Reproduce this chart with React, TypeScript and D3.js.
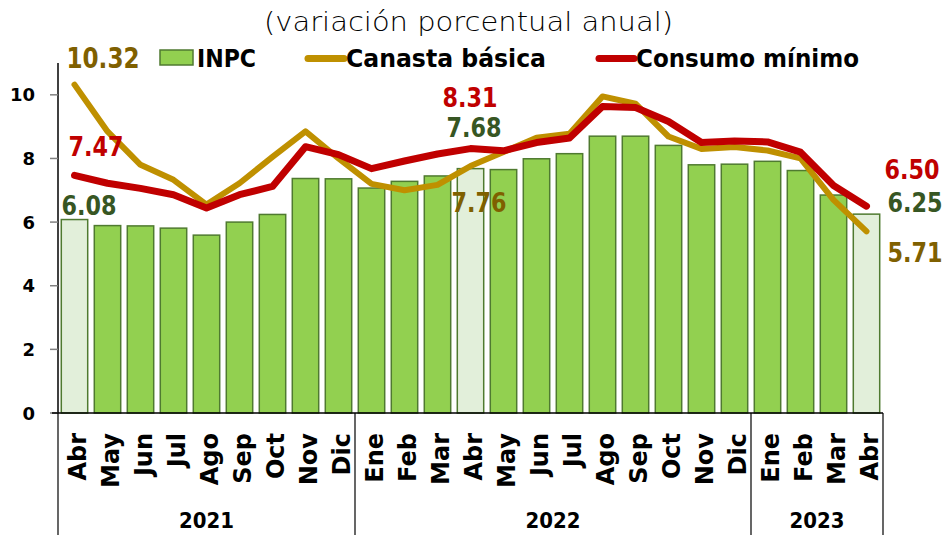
import React from "react";
import * as d3 from "d3";

const months = ["Abr","May","Jun","Jul","Ago","Sep","Oct","Nov","Dic","Ene","Feb","Mar","Abr","May","Jun","Jul","Ago","Sep","Oct","Nov","Dic","Ene","Feb","Mar","Abr"];
const years = [
  { label: "2021", start: 0, end: 9 },
  { label: "2022", start: 9, end: 21 },
  { label: "2023", start: 21, end: 25 },
];
const inpc = [6.08,5.89,5.88,5.81,5.59,6.00,6.24,7.37,7.36,7.07,7.28,7.45,7.68,7.65,7.99,8.15,8.70,8.70,8.41,7.80,7.82,7.91,7.62,6.85,6.25];
const canasta = [10.32,8.85,7.80,7.33,6.55,7.22,8.05,8.85,8.00,7.20,7.00,7.17,7.76,8.20,8.65,8.78,9.95,9.72,8.69,8.30,8.36,8.25,8.00,6.70,5.71];
const consumo = [7.47,7.22,7.06,6.86,6.44,6.86,7.12,8.37,8.12,7.68,7.92,8.14,8.31,8.24,8.50,8.64,9.63,9.60,9.16,8.50,8.55,8.52,8.20,7.15,6.50];
const highlighted = [0, 12, 24];
const yTicks = [0, 2, 4, 6, 8, 10];

const W = 948, H = 535;
const GREEN = "#92D050", GREEN_LIGHT = "#E2EFDA", BAR_STROKE = "#4F7A30";
const GOLD = "#BF9000", RED = "#C00000";
const GOLD_TXT = "#7F6000", GREEN_TXT = "#375623";

export default function App() {
  const x = d3.scaleBand<number>().domain(d3.range(months.length)).range([58, 883]).paddingInner(0.2).paddingOuter(0.1);
  const y = d3.scaleLinear().domain([0, 11]).range([413, 63]);
  const step = x.step();
  const cx = (i: number) => (x(i) as number) + x.bandwidth() / 2;
  const boundary = (i: number) => (i >= months.length ? 883 : (x(i) as number) - step * 0.1);

  const line = d3.line<number>().x((_, i) => cx(i)).y((d) => y(d));

  const numFont = "'DejaVu Sans Condensed', 'DejaVu Sans', sans-serif";
  const lbl = (text: string, xx: number, yy: number, color: string) => (
    <text x={xx} y={yy} fill={color} fontFamily={numFont} fontWeight="bold" fontSize={27} textLength={55} lengthAdjust="spacingAndGlyphs">{text}</text>
  );

  return (
    <div style={{ position: "fixed", left: 0, top: 0 }}>
      <svg width={W} height={H} style={{ display: "block", background: "#fff" }}>
        {/* title */}
        <text x={264} y={31} fill="#000" fontFamily="'DejaVu Sans', sans-serif" fontWeight={200} fontSize={26} textLength={409} lengthAdjust="spacingAndGlyphs">(variación porcentual anual)</text>

        {/* legend */}
        <rect x={160} y={50} width={33} height={15} fill={GREEN} stroke={BAR_STROKE} strokeWidth={1.5} />
        <text x={197} y={67} fontFamily={numFont} fontWeight="bold" fontSize={24} textLength={59} lengthAdjust="spacingAndGlyphs">INPC</text>
        <line x1={308} x2={344} y1={58.5} y2={58.5} stroke={GOLD} strokeWidth={7} strokeLinecap="round" />
        <text x={346} y={67} fontFamily={numFont} fontWeight="bold" fontSize={24} textLength={200} lengthAdjust="spacingAndGlyphs">Canasta básica</text>
        <line x1={599} x2={634} y1={58.5} y2={58.5} stroke={RED} strokeWidth={7} strokeLinecap="round" />
        <text x={636} y={67} fontFamily={numFont} fontWeight="bold" fontSize={24} textLength={223} lengthAdjust="spacingAndGlyphs">Consumo mínimo</text>

        {/* y axis */}
        <line x1={58} x2={58} y1={63} y2={413} stroke="#000" strokeWidth={1.5} />
        {yTicks.map((t) => (
          <g key={t}>
            <line x1={50} x2={58} y1={y(t)} y2={y(t)} stroke="#808080" strokeWidth={1.5} />
            <text x={35} y={y(t) + 6.5} textAnchor="end" fontFamily="'DejaVu Sans', sans-serif" fontWeight="bold" fontSize={18}>{t}</text>
          </g>
        ))}

        {/* bars */}
        {inpc.map((v, i) => (
          <rect key={i} x={x(i)} y={y(v)} width={x.bandwidth()} height={y(0) - y(v)}
            fill={highlighted.includes(i) ? GREEN_LIGHT : GREEN} stroke={BAR_STROKE} strokeWidth={1.5} />
        ))}

        {/* lines */}
        <path d={line(canasta) || ""} fill="none" stroke={GOLD} strokeWidth={6} strokeLinejoin="round" strokeLinecap="round" />
        <path d={line(consumo) || ""} fill="none" stroke={RED} strokeWidth={7} strokeLinejoin="round" strokeLinecap="round" />

        {/* x axis */}
        <line x1={52} x2={883} y1={413} y2={413} stroke="#000" strokeWidth={1.5} />
        {[0, 9, 21, 25].map((i) => (
          <line key={i} x1={boundary(i)} x2={boundary(i)} y1={413} y2={535} stroke="#000" strokeWidth={1.2} />
        ))}
        {months.map((m, i) => (
          <text key={i} transform={`translate(${cx(i) + 11},433) rotate(-90)`} textAnchor="end"
            fontFamily="'DejaVu Sans', sans-serif" fontWeight="bold" fontSize={24}>{m}</text>
        ))}
        {years.map((yr) => {
          const mid = (boundary(yr.start) + boundary(yr.end)) / 2;
          return (
            <text key={yr.label} x={mid - 27.5} y={528} fontFamily={numFont} fontWeight="bold" fontSize={22} textLength={55} lengthAdjust="spacingAndGlyphs">{yr.label}</text>
          );
        })}

        {/* value labels */}
        <text x={cx(0) - 8} y={68} fill={GOLD_TXT} fontFamily={numFont} fontWeight="bold" fontSize={29} textLength={73} lengthAdjust="spacingAndGlyphs">{canasta[0].toFixed(2)}</text>
        {lbl(consumo[0].toFixed(2), cx(0) - 6, y(consumo[0]) - 19, RED)}
        {lbl(inpc[0].toFixed(2), cx(0) - 13, y(inpc[0]) - 5, GREEN_TXT)}
        {lbl(consumo[12].toFixed(2), cx(12) - 28, y(consumo[12]) - 42, RED)}
        {lbl(inpc[12].toFixed(2), cx(12) - 24, y(inpc[12]) - 32, GREEN_TXT)}
        {lbl(canasta[12].toFixed(2), cx(12) - 19, y(canasta[12]) + 46, GOLD_TXT)}
        {lbl(consumo[24].toFixed(2), cx(24) + 18, y(consumo[24]) - 27, RED)}
        {lbl(inpc[24].toFixed(2), cx(24) + 21, y(inpc[24]) - 2, GREEN_TXT)}
        {lbl(canasta[24].toFixed(2), cx(24) + 21, y(canasta[24]) + 31, GOLD_TXT)}
      </svg>
    </div>
  );
}
